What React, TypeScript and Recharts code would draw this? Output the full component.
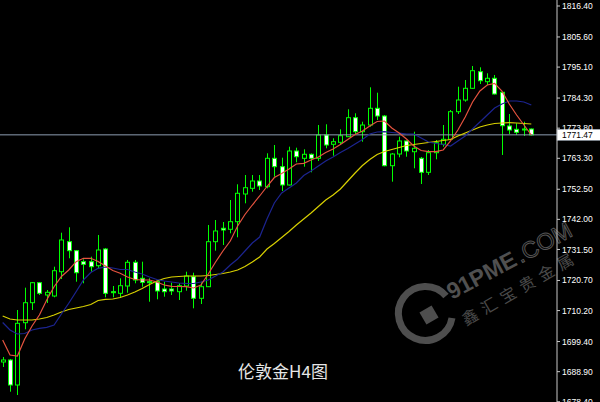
import * as React from 'react';
import { ComposedChart, Bar, Line, XAxis, YAxis, ReferenceLine } from 'recharts';

// H4 candles, oldest first
const opens = [
  1692.27, 1692.97, 1684.25, 1705.97, 1712.94, 1719.92, 1715.63, 1715.28, 1723.75, 1734.22,
  1731.08, 1727.24, 1727.24, 1725.85, 1731.67, 1716.78, 1716.22, 1718.77, 1727.03, 1721.45,
  1720.27, 1720.27, 1717.72, 1717.72, 1716.78, 1718.77, 1722.01, 1714.48, 1718.52, 1734.22,
  1738.89, 1738.54, 1741.19, 1750.85, 1752.83, 1755.38, 1753.39, 1763.29, 1760.37, 1753.99,
  1765.84, 1763.29, 1764.69, 1763.29, 1771.42, 1768.18, 1768.87, 1770.83, 1777.45, 1772.57,
  1774.9, 1780.73, 1778.04, 1760.71, 1764.79, 1769.33, 1765.59, 1763.29, 1758.41, 1765.25,
  1768.18, 1769.92, 1779.54, 1783.62, 1787.7, 1793.49, 1790.0, 1791.19, 1786.31, 1774.56,
  1773.4, 1773.51, 1773.51,
];
const highs = [
  1694.01, 1693.32, 1710.4, 1718.18, 1720.16, 1720.16, 1717.37, 1725.5, 1737.35, 1739.24,
  1731.32, 1728.08, 1728.98, 1736.55, 1732.02, 1718.77, 1721.45, 1727.84, 1727.84, 1727.24,
  1721.45, 1720.51, 1720.27, 1719.92, 1719.71, 1723.75, 1723.4, 1720.06, 1740.04, 1741.78,
  1741.08, 1748.75, 1754.23, 1757.47, 1757.47, 1757.47, 1765.04, 1767.93, 1763.5, 1767.34,
  1766.99, 1766.43, 1764.97, 1774.9, 1775.15, 1770.27, 1773.4, 1780.38, 1778.99, 1776.05,
  1788.05, 1786.17, 1778.39, 1765.14, 1770.83, 1769.5, 1772.57, 1763.75, 1766.19, 1769.67,
  1774.9, 1780.14, 1788.26, 1790.6, 1795.48, 1795.02, 1792.93, 1792.34, 1786.41, 1778.74,
  1775.5, 1776.05, 1773.69,
];
const lows = [
  1690.52, 1681.91, 1680.76, 1703.67, 1710.4, 1715.63, 1712.84, 1714.83, 1721.21, 1728.43,
  1720.27, 1719.71, 1723.75, 1724.94, 1714.83, 1714.83, 1714.83, 1716.43, 1719.71, 1718.52,
  1713.29, 1714.13, 1715.04, 1715.63, 1713.89, 1717.13, 1710.99, 1712.49, 1718.42, 1731.08,
  1733.06, 1737.14, 1735.75, 1747.6, 1751.65, 1752.24, 1752.83, 1756.88, 1751.89, 1753.81,
  1761.9, 1760.37, 1758.41, 1762.35, 1766.78, 1764.2, 1767.93, 1770.72, 1771.66, 1769.08,
  1774.31, 1776.65, 1760.5, 1755.14, 1763.64, 1763.85, 1759.81, 1754.33, 1757.47, 1762.94,
  1767.34, 1769.67, 1778.74, 1783.03, 1787.53, 1789.2, 1788.85, 1785.54, 1764.45, 1771.77,
  1771.42, 1771.07, 1771.24,
];
const closes = [
  1692.97, 1684.25, 1705.76, 1712.94, 1719.92, 1716.22, 1716.57, 1724.1, 1734.81, 1731.08,
  1723.4, 1726.33, 1725.5, 1731.32, 1716.22, 1716.43, 1718.87, 1727.03, 1720.86, 1720.06,
  1719.92, 1717.03, 1716.78, 1717.03, 1718.87, 1722.25, 1714.48, 1718.52, 1734.22, 1737.95,
  1738.29, 1741.19, 1751.09, 1753.04, 1755.38, 1753.64, 1763.29, 1760.37, 1753.99, 1765.84,
  1763.85, 1764.69, 1763.29, 1771.42, 1767.93, 1769.08, 1771.17, 1777.45, 1772.57, 1774.9,
  1780.73, 1778.04, 1760.71, 1764.79, 1769.33, 1765.84, 1766.78, 1758.41, 1765.25, 1768.73,
  1769.92, 1779.54, 1783.62, 1787.7, 1793.84, 1790.35, 1791.19, 1785.71, 1774.66, 1773.16,
  1772.36, 1773.16, 1771.47,
];

// moving averages
const maFast = [
  1699.94, 1694.71, 1694.36, 1700.29, 1704.82, 1708.66, 1713.89, 1718.52, 1722.08, 1724.35,
  1727.24, 1728.43, 1728.43, 1727.31, 1725.74, 1724.17, 1723.2, 1721.91, 1721.03, 1720.86,
  1720.86, 1720.16, 1719.12, 1718.66, 1718.59, 1718.52, 1718.07, 1719.12, 1722.95, 1727.14,
  1730.97, 1734.46, 1739.69, 1743.7, 1747.01, 1750.15, 1753.46, 1756.6, 1757.99, 1759.56,
  1761.31, 1761.55, 1762.7, 1763.75, 1765.32, 1766.54, 1768.11, 1769.85, 1771.59, 1772.81,
  1774.56, 1776.13, 1776.3, 1773.86, 1772.12, 1770.02, 1767.58, 1766.01, 1765.6, 1765.6,
  1766.19, 1769.33, 1773.16, 1777.69, 1782.92, 1786.76, 1788.85, 1789.44, 1786.76, 1782.23,
  1778.39, 1774.91, 1771.42,
];
const maMid = [
  1706.04, 1703.43, 1702.03, 1702.21, 1703.43, 1704.02, 1704.37, 1705.17, 1709.0, 1712.74,
  1716.78, 1720.86, 1723.48, 1724.94, 1725.39, 1725.04, 1724.52, 1724.52, 1723.65, 1722.95,
  1721.91, 1721.03, 1720.51, 1720.16, 1719.81, 1719.64, 1719.64, 1720.16, 1720.86, 1722.25,
  1723.65, 1726.09, 1728.18, 1730.97, 1733.76, 1735.85, 1742.13, 1747.71, 1751.2, 1752.94,
  1754.68, 1757.3, 1758.87, 1760.61, 1762.35, 1763.75, 1765.32, 1766.71, 1768.28, 1769.85,
  1771.77, 1772.46, 1772.57, 1772.29, 1772.05, 1771.77, 1771.77, 1770.37, 1768.98, 1768.45,
  1768.11, 1767.58, 1769.33, 1771.07, 1773.51, 1775.95, 1778.39, 1780.83, 1782.23, 1783.27,
  1783.27, 1782.92, 1781.88,
];
const maSlow = [
  1708.31, 1707.26, 1706.91, 1706.91, 1706.91, 1707.26, 1707.78, 1708.66, 1709.7, 1710.57,
  1711.1, 1711.62, 1712.32, 1713.71, 1714.13, 1714.23, 1714.76, 1715.63, 1716.68, 1717.9,
  1719.29, 1720.51, 1721.38, 1721.91, 1722.08, 1722.25, 1722.25, 1722.25, 1722.43, 1722.78,
  1723.13, 1723.65, 1724.35, 1725.57, 1727.14, 1728.88, 1731.67, 1733.59, 1735.68, 1737.77,
  1740.04, 1742.13, 1744.22, 1746.49, 1748.75, 1750.5, 1752.59, 1755.38, 1758.17, 1760.78,
  1762.88, 1764.62, 1765.67, 1766.36, 1767.06, 1767.76, 1768.11, 1768.45, 1768.8, 1769.15,
  1769.5, 1769.85, 1771.07, 1772.12, 1773.16, 1774.21, 1774.91, 1775.43, 1775.6, 1775.71,
  1775.6, 1775.43, 1775.25,
];

const priceTicks = [
  1816.4, 1805.6, 1795.1, 1784.3, 1773.8, 1763.3, 1752.5, 1742.0, 1731.5, 1720.7, 1710.2,
  1699.4, 1688.9, 1678.4,
];
const lastPrice = 1771.47;
const emptySlots = 3; // chart shift on the right

const data = [
  ...opens.map((o, i) => ({
    idx: i,
    open: o,
    high: highs[i],
    low: lows[i],
    close: closes[i],
    range: [lows[i], highs[i]],
    fast: maFast[i],
    mid: maMid[i],
    slow: maSlow[i],
  })),
  ...Array.from({ length: emptySlots }, (_, k) => ({ idx: opens.length + k })),
];

const Candle = (props: any) => {
  const { x, y, width, height, payload } = props;
  if (!payload || payload.open == null) return null;
  const top = Math.min(y, y + height);
  const h = Math.abs(height);
  const span = payload.high - payload.low || 1;
  const perUnit = h / span;
  const yOpen = top + (payload.high - payload.open) * perUnit;
  const yClose = top + (payload.high - payload.close) * perUnit;
  const cx = Math.round(x + width / 2) + 0.5;
  const bodyTop = Math.min(yOpen, yClose);
  const bodyH = Math.max(Math.abs(yOpen - yClose), 1);
  const bear = payload.close < payload.open;
  return (
    <g>
      <line x1={cx} x2={cx} y1={top} y2={top + h} stroke="#00ff00" strokeWidth={1} />
      <rect
        x={cx - 2}
        y={bodyTop}
        width={4}
        height={bodyH}
        fill={bear ? '#ffffff' : '#000000'}
        stroke="#00ff00"
        strokeWidth={1}
      />
    </g>
  );
};

const PriceTag = (props: any) => {
  const vb = props.viewBox || {};
  const x = vb.x + vb.width;
  const y = vb.y;
  return (
    <g>
      <rect x={x} y={y - 5.5} width={44} height={11} fill="#ffffff" stroke="#9aa8b8" strokeWidth={0.5} />
      <text x={x + 5} y={y + 3.5} fontSize={8.5} fontFamily="'Liberation Sans', Arial, sans-serif" fill="#000000">
        {lastPrice.toFixed(2)}
      </text>
    </g>
  );
};

const Watermark = () => (
  <svg width={600} height={402} style={{ position: 'absolute', left: 0, top: 0 }}>
    <g fill="none" stroke="#4e4e4e" strokeWidth={7}>
      <path d="M 446 296 A 27 27 0 1 0 452 318" />
    </g>
    <rect x={422} y={308} width={14} height={14} fill="#4e4e4e" transform="rotate(-30 429 315)" />
    <g transform="translate(452 300) rotate(-28)">
      <text x={0} y={0} fontSize={23} fontWeight="bold" fontFamily="'Liberation Sans', Arial, sans-serif" fill="#505050">
        91PME
      </text>
      <text x={78} y={0} fontSize={23} fontFamily="'Liberation Sans', Arial, sans-serif" fill="none" stroke="#555555" strokeWidth={1}>
        .COM
      </text>
    </g>
    <g transform="translate(466 326) rotate(-30)">
      <text x={0} y={0} fontSize={16} letterSpacing={6} fontFamily="'Noto Sans CJK SC', sans-serif" fill="#4a4a4a">
        鑫汇宝贵金属
      </text>
    </g>
  </svg>
);

const App: React.FC = () => {
  return (
    <div style={{ position: 'fixed', left: 0, top: 0, width: 600, height: 402, background: '#000000', overflow: 'hidden' }}>
      <Watermark />
      <div style={{ position: 'absolute', left: 0, top: 0 }}>
        <ComposedChart width={600} height={402} data={data} margin={{ top: 0, right: 0, bottom: 0, left: -1 }}>
          <XAxis dataKey="idx" hide />
          <YAxis
            orientation="right"
            width={43}
            domain={[1678.32, 1818.49]}
            ticks={priceTicks}
            interval={0}
            allowDataOverflow
            tickFormatter={(v: number) => v.toFixed(2)}
            axisLine={{ stroke: '#c8c8c8' }}
            tickLine={{ stroke: '#c8c8c8' }}
            tickSize={3}
            tickMargin={2}
            tick={{ fill: '#ffffff', fontSize: 8.5, fontFamily: "'Liberation Sans', Arial, sans-serif" }}
          />
          <ReferenceLine y={lastPrice} stroke="#8d9db2" strokeWidth={1} label={<PriceTag />} />
          <Line dataKey="slow" stroke="#d8d000" strokeWidth={1.2} dot={false} activeDot={false} legendType="none" isAnimationActive={false} type="linear" />
          <Line dataKey="mid" stroke="#1c2490" strokeWidth={1.2} dot={false} activeDot={false} legendType="none" isAnimationActive={false} type="linear" />
          <Line dataKey="fast" stroke="#e5533f" strokeWidth={1.2} dot={false} activeDot={false} legendType="none" isAnimationActive={false} type="linear" />
          <Bar dataKey="range" barSize={5} shape={<Candle />} isAnimationActive={false} />
        </ComposedChart>
      </div>
      <div
        style={{
          position: 'absolute',
          left: 0,
          width: 566,
          top: 358,
          textAlign: 'center',
          color: '#e6e6e6',
          fontSize: 17,
          fontFamily: "'Noto Sans CJK SC', sans-serif",
        }}
      >
        伦敦金H4图
      </div>
    </div>
  );
};

export default App;
